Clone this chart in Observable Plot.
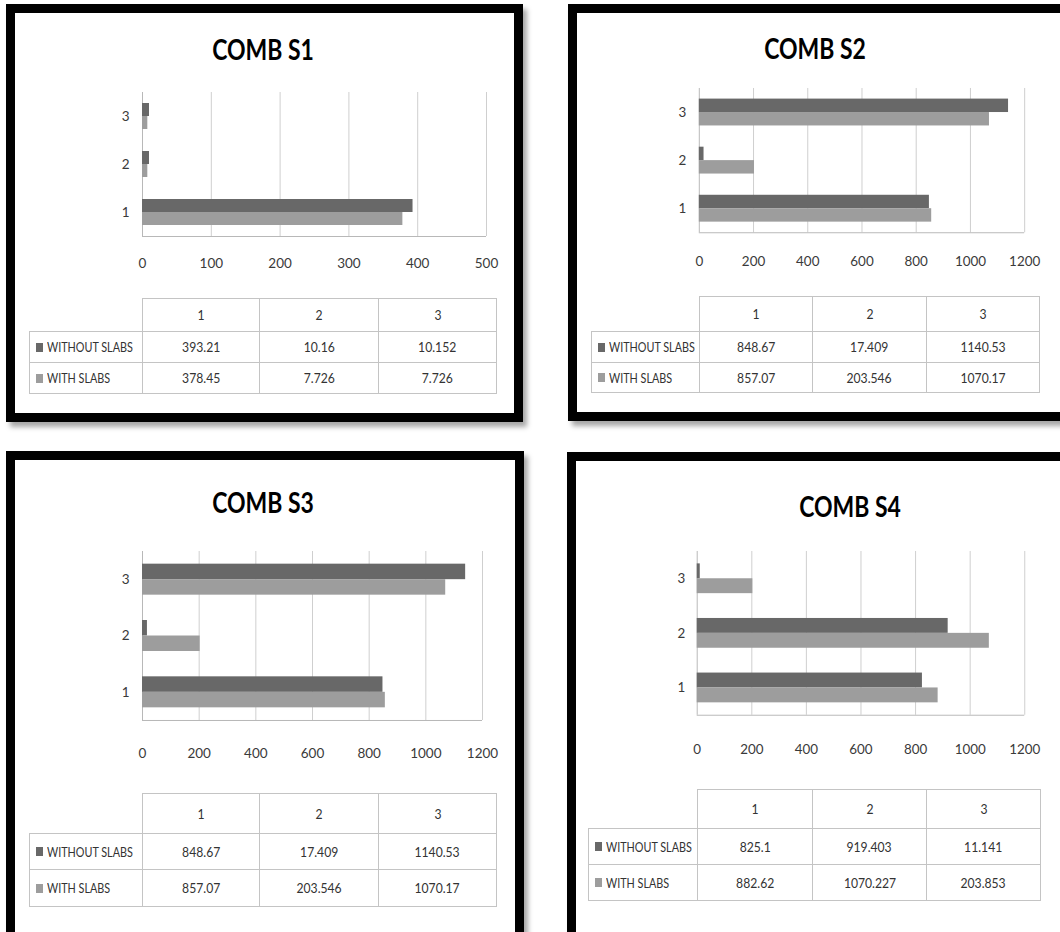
<!DOCTYPE html>
<html>
<head>
<meta charset="utf-8">
<script src="https://cdn.jsdelivr.net/npm/d3@7"></script>
<script src="https://cdn.jsdelivr.net/npm/@observablehq/plot@0.6"></script>
<style>
  html, body { margin: 0; padding: 0; background: #fff; }
  body { width: 1060px; height: 932px; position: relative; overflow: hidden;
         font-family: Lato, "Open Sans", sans-serif; color: #333; }
  .frame { position: absolute; box-sizing: border-box; border: 9px solid #000; background: #fff;
           box-shadow: 4px 5px 5px rgba(0,0,0,0.35); }
  .title { position: absolute; font-weight: 700; font-size: 28px; color: #000; white-space: nowrap;
           transform: translate(-50%, -50%) scaleX(0.82); }
  .chart { position: absolute; }
  .cell { position: absolute; box-sizing: border-box; border: 1px solid #c4c4c4;
          display: flex; align-items: center; justify-content: center; white-space: nowrap;
          font-size: 13.5px; color: #333; }
  .cell .txt { display: inline-block; transform: scaleX(0.9); }
  .legend { justify-content: flex-start; padding-left: 6px; overflow: visible; }
  .legend .txt { font-size: 13.5px; transform: scaleX(0.8); transform-origin: left center; }
  .swatch { display: inline-block; width: 7px; height: 9px; margin-right: 4px; flex: none; }
</style>
</head>
<body>
<script>
// Four load combinations, each with the same two series over members 1-3
const categories = ["1", "2", "3"];
const seriesNames = ["WITHOUT SLABS", "WITH SLABS"];
const seriesColors = ["#686868", "#9d9d9d"];
const titles = ["COMB S1", "COMB S2", "COMB S3", "COMB S4"];

const s1Without = [393.21, 10.16, 10.152];
const s1With = [378.45, 7.726, 7.726];
const s2Without = [848.67, 17.409, 1140.53];
const s2With = [857.07, 203.546, 1070.17];
const s3Without = [848.67, 17.409, 1140.53];
const s3With = [857.07, 203.546, 1070.17];
const s4Without = [825.1, 919.403, 11.141];
const s4With = [882.62, 1070.227, 203.853];

const ticksS1 = [0, 100, 200, 300, 400, 500];
const ticksWide = [0, 200, 400, 600, 800, 1000, 1200];

// Page layout of each framed chart (frame box, title centre, plot area, data table grid)
const panels = [
  { title: titles[0], without: s1Without, with: s1With, ticks: ticksS1,
    frame: [6, 4, 523, 422], titleAt: [263, 49],
    plot: { x0: 142, x1: 486, y0: 92, y1: 236 }, barH: 13, xPad: 22, yPad: 13,
    table: { left: 29, cols: [142, 259, 378, 496], rows: [298, 331, 362, 393] } },
  { title: titles[1], without: s2Without, with: s2With, ticks: ticksWide,
    frame: [568, 4, 1075, 421], titleAt: [815, 48],
    plot: { x0: 699, x1: 1026, y0: 88, y1: 233 }, barH: 13.5, xPad: 24, yPad: 13,
    table: { left: 591, cols: [699, 812, 926, 1039], rows: [296, 331, 362, 392] } },
  { title: titles[2], without: s3Without, with: s3With, ticks: ticksWide,
    frame: [6, 451, 524, 945], titleAt: [263, 502],
    plot: { x0: 142, x1: 482, y0: 551, y1: 720 }, barH: 15.5, xPad: 28, yPad: 13,
    table: { left: 29, cols: [142, 259, 378, 496], rows: [793, 833, 869, 906] } },
  { title: titles[3], without: s4Without, with: s4With, ticks: ticksWide,
    frame: [567, 452, 1075, 945], titleAt: [850, 506],
    plot: { x0: 697, x1: 1027, y0: 551, y1: 716 }, barH: 15, xPad: 29, yPad: 12,
    table: { left: 588, cols: [697, 812, 926, 1040], rows: [789, 828, 864, 900] } }
];

function el(tag, cls, style, parent) {
  const e = document.createElement(tag);
  if (cls) e.className = cls;
  Object.assign(e.style, style || {});
  (parent || document.body).appendChild(e);
  return e;
}

function drawPanel(p) {
  const [fx0, fy0, fx1, fy1] = p.frame;
  el("div", "frame", { left: fx0 + "px", top: fy0 + "px", width: (fx1 - fx0) + "px", height: (fy1 - fy0) + "px" });

  const t = el("div", "title", { left: p.titleAt[0] + "px", top: p.titleAt[1] + "px" });
  t.textContent = p.title;

  // Grouped horizontal bars
  const rows = categories.flatMap((c, i) => [
    { cat: c, series: seriesNames[0], value: p.without[i] },
    { cat: c, series: seriesNames[1], value: p.with[i] }
  ]);
  const { x0, x1, y0, y1 } = p.plot;
  const bw = (y1 - y0) / categories.length;
  const gap = (bw - 2 * p.barH) / 2;
  const mL = 40, mR = 36, mT = 4, mB = 50;
  const chart = Plot.plot({
    width: (x1 - x0) + mL + mR,
    height: (y1 - y0) + mT + mB,
    marginLeft: mL, marginRight: mR, marginTop: mT, marginBottom: mB,
    style: { fontFamily: "Lato, sans-serif", fontSize: "13.5px", color: "#3a3a3a", background: "transparent", overflow: "visible" },
    x: { domain: [0, d3.max(p.ticks)], ticks: p.ticks, tickSize: 0, tickPadding: p.xPad,
         tickFormat: d => String(d), label: null },
    y: { domain: categories.slice().reverse(), padding: 0, round: false, tickSize: 0,
         tickPadding: p.yPad, label: null },
    marks: [
      Plot.ruleX(p.ticks.slice(1), { stroke: "#cfcfcf" }),
      Plot.ruleX([0], { stroke: "#b8b8b8" }),
      Plot.ruleY([categories[0]], { dy: bw / 2, stroke: "#b8b8b8" }),
      Plot.barX(rows.filter(d => d.series === seriesNames[0]),
        { x: "value", y: "cat", fill: seriesColors[0], insetTop: gap, insetBottom: bw / 2 }),
      Plot.barX(rows.filter(d => d.series === seriesNames[1]),
        { x: "value", y: "cat", fill: seriesColors[1], insetTop: bw / 2, insetBottom: gap })
    ]
  });
  const holder = el("div", "chart", { left: (x0 - mL) + "px", top: (y0 - mT) + "px" });
  holder.appendChild(chart);

  // Data table below the chart
  const tb = p.table;
  const colEdges = tb.cols;
  const rowEdges = tb.rows;
  const cell = (x, y, w, h, cls, text) => {
    const c = el("div", cls, { left: x + "px", top: y + "px", width: (w + 1) + "px", height: (h + 1) + "px" });
    return c;
  };
  const label = (parent, text) => {
    const s = el("span", "txt", {}, parent);
    s.textContent = text;
  };
  // header row: member numbers
  categories.forEach((c, j) => {
    const e = cell(colEdges[j], rowEdges[0], colEdges[j + 1] - colEdges[j], rowEdges[1] - rowEdges[0], "cell");
    label(e, c);
  });
  // one row per series, led by its legend key
  seriesNames.forEach((s, r) => {
    const yTop = rowEdges[r + 1], h = rowEdges[r + 2] - rowEdges[r + 1];
    const lg = cell(tb.left, yTop, colEdges[0] - tb.left, h, "cell legend");
    el("span", "swatch", { background: seriesColors[r] }, lg);
    label(lg, s);
    const vals = r === 0 ? p.without : p.with;
    vals.forEach((v, j) => {
      const e = cell(colEdges[j], yTop, colEdges[j + 1] - colEdges[j], h, "cell");
      label(e, String(v));
    });
  });
}

panels.forEach(drawPanel);
</script>
</body>
</html>
